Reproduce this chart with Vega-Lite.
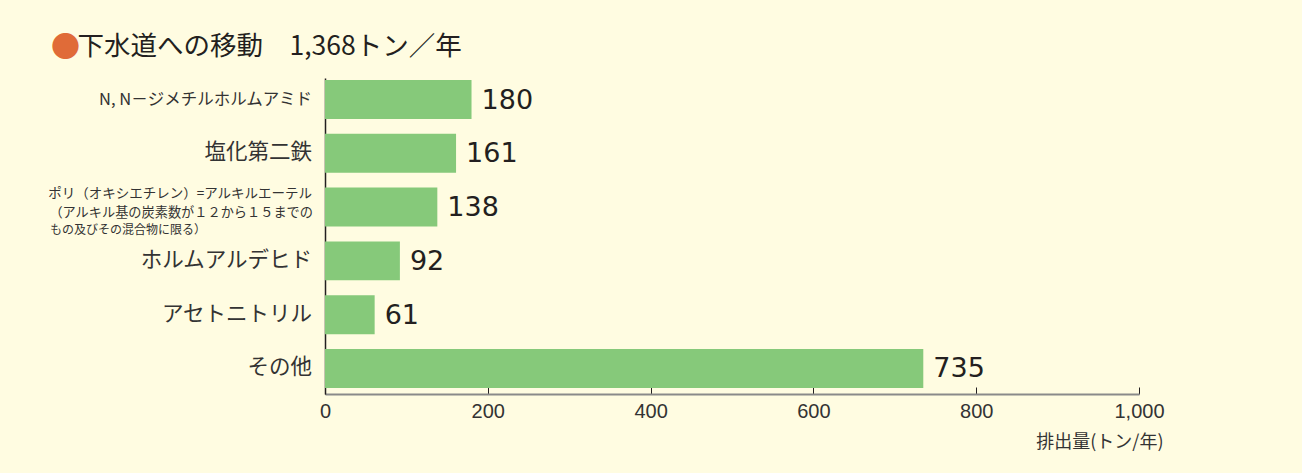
{
  "$schema": "https://vega.github.io/schema/vega-lite/v6.json",
  "width": 814,
  "height": 316,
  "autosize": {"type": "none"},
  "padding": {"left": 325, "top": 78, "right": 163, "bottom": 79},
  "background": "#FFFCE1",
  "config": {"view": {"stroke": null}, "font": "Noto Sans CJK JP"},
  "title": {
    "text": "●",
    "color": "#E06B38",
    "fontSize": 29,
    "fontWeight": "normal",
    "font": "Noto Sans CJK JP",
    "anchor": "start",
    "frame": "group",
    "dx": -274,
    "offset": 15,
    "subtitle": "\u200b\u3000下水道への移動　1,368トン／年",
    "subtitleColor": "#231F20",
    "subtitleFontSize": 26.5,
    "subtitleFont": "Noto Sans CJK JP",
    "subtitlePadding": -29
  },
  "data": {
    "values": [
      {"name": "N, N－ジメチルホルムアミド", "value": 180, "label": "N, N－ジメチルホルムアミド", "note1": "", "note2": ""},
      {"name": "塩化第二鉄", "value": 161, "label": "塩化第二鉄", "note1": "", "note2": ""},
      {"name": "ポリ（オキシエチレン）=アルキルエーテル（アルキル基の炭素数が１２から１５までのもの及びその混合物に限る）", "value": 138, "label": "ポリ（オキシエチレン）=アルキルエーテル", "note1": "（アルキル基の炭素数が１２から１５までの", "note2": "もの及びその混合物に限る）"},
      {"name": "ホルムアルデヒド", "value": 92, "label": "ホルムアルデヒド", "note1": "", "note2": ""},
      {"name": "アセトニトリル", "value": 61, "label": "アセトニトリル", "note1": "", "note2": ""},
      {"name": "その他", "value": 735, "label": "その他", "note1": "", "note2": ""}
    ]
  },
  "encoding": {
    "y": {
      "field": "name",
      "type": "nominal",
      "sort": null,
      "scale": {"paddingInner": 0.275, "paddingOuter": 0.075, "align": 0.25},
      "axis": {"labels": false, "ticks": false, "title": null, "grid": false, "domainColor": "#231F20", "domainWidth": 1.5}
    }
  },
  "layer": [
    {
      "mark": {"type": "bar", "color": "#86C97A"},
      "encoding": {
        "x": {
          "field": "value",
          "type": "quantitative",
          "scale": {"domain": [0, 1000], "nice": false},
          "axis": {
            "values": [0, 200, 400, 600, 800, 1000],
            "format": ",d",
            "grid": false,
            "tickSize": -7,
            "tickColor": "#231F20",
            "tickWidth": 1,
            "domainColor": "#8a8a8a",
            "domainWidth": 2,
            "labelFont": "Liberation Sans",
            "labelFontSize": 20,
            "labelColor": "#333333",
            "labelPadding": 14,
            "labelFlush": false,
            "title": "排出量(トン/年)",
            "titleFont": "Noto Sans CJK JP",
            "titleFontSize": 18,
            "titleFontWeight": "normal",
            "titleColor": "#333333",
            "titleX": 838,
            "titleY": 48,
            "titleAlign": "right",
            "titleBaseline": "middle"
          }
        }
      }
    },
    {
      "mark": {"type": "text", "align": "left", "baseline": "middle", "dx": 10, "dy": 1, "font": "DejaVu Sans", "fontSize": 27, "color": "#231F20"},
      "encoding": {
        "x": {"field": "value", "type": "quantitative"},
        "text": {"field": "value", "type": "quantitative"}
      }
    },
    {
      "transform": [{"filter": "datum.value != 180 && datum.value != 138"}],
      "mark": {"type": "text", "align": "right", "baseline": "middle", "dx": -13, "font": "Noto Sans CJK JP", "fontSize": 21.5, "color": "#333333"},
      "encoding": {"x": {"datum": 0, "type": "quantitative"}, "text": {"field": "label"}}
    },
    {
      "transform": [{"filter": "datum.value == 180"}],
      "mark": {"type": "text", "align": "right", "baseline": "middle", "dx": -13, "font": "Noto Sans CJK JP", "fontSize": 16.5, "color": "#333333"},
      "encoding": {"x": {"datum": 0, "type": "quantitative"}, "text": {"field": "label"}}
    },
    {
      "transform": [{"filter": "datum.value == 138"}],
      "mark": {"type": "text", "align": "right", "baseline": "middle", "dx": -13, "dy": -13, "font": "Noto Sans CJK JP", "fontSize": 13.5, "color": "#333333"},
      "encoding": {"x": {"datum": 0, "type": "quantitative"}, "text": {"field": "label"}}
    },
    {
      "transform": [{"filter": "datum.value == 138"}],
      "mark": {"type": "text", "align": "right", "baseline": "middle", "dx": -12, "dy": 6, "font": "Noto Sans CJK JP", "fontSize": 13.2, "color": "#333333"},
      "encoding": {"x": {"datum": 0, "type": "quantitative"}, "text": {"field": "note1"}}
    },
    {
      "transform": [{"filter": "datum.value == 138"}],
      "mark": {"type": "text", "align": "left", "baseline": "middle", "dx": -275, "dy": 23, "font": "Noto Sans CJK JP", "fontSize": 12, "color": "#333333"},
      "encoding": {"x": {"datum": 0, "type": "quantitative"}, "text": {"field": "note2"}}
    }
  ]
}
